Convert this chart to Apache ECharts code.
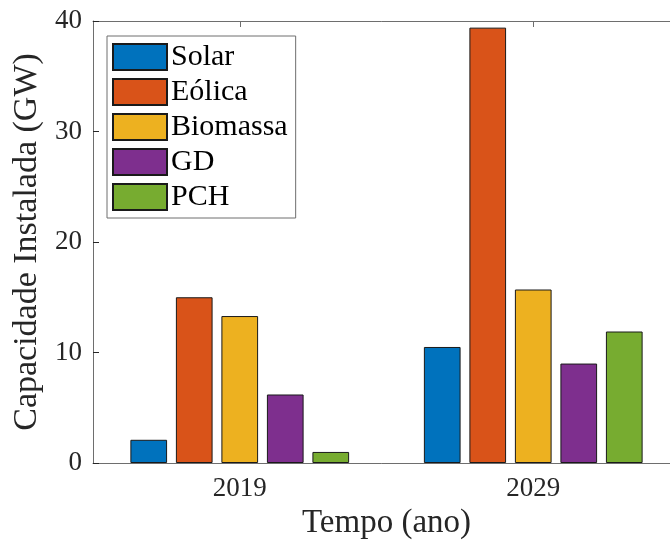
<!DOCTYPE html>
<html>
<head>
<meta charset="utf-8">
<script src="https://cdn.jsdelivr.net/npm/echarts@6/dist/echarts.min.js"></script>
<style>html,body{margin:0;padding:0;background:#fff;}#c{width:670px;height:542px;}</style>
</head>
<body>
<div id="c"></div>
<script>
const categories = ['2019', '2029'];
const seriesNames = ['Solar', 'Eólica', 'Biomassa', 'GD', 'PCH'];
const solar = [2.1, 10.5];
const eolica = [15.0, 39.4];
const biomassa = [13.3, 15.7];
const gd = [6.2, 9.0];
const pch = [1.0, 11.9];
const yTicks = [0, 10, 20, 30, 40];
const colors = ['#0072BD', '#D95319', '#EDB120', '#7E2F8E', '#77AC30'];
const values = [solar, eolica, biomassa, gd, pch];

const FONT = 'Liberation Serif, DejaVu Serif, serif';
const chart = echarts.init(document.getElementById('c'), null, {renderer: 'canvas'});
chart.setOption({
  animation: false,
  backgroundColor: '#fff',
  grid: {left: 93, top: 21, width: 587, height: 442, containLabel: false, outerBoundsMode: 'none'},
  legend: {
    left: 107, top: 36,
    orient: 'vertical',
    icon: 'rect',
    itemWidth: 54, itemHeight: 26, itemGap: 5,
    padding: [6, 8, 6, 5],
    borderColor: '#6e6e6e', borderWidth: 1,
    backgroundColor: '#fff',
    textStyle: {fontFamily: FONT, fontSize: 30, color: '#000', padding: [0, 0, 0, -1]},
    data: seriesNames
  },
  xAxis: [{
    type: 'category', data: categories, position: 'bottom',
    axisLine: {lineStyle: {color: '#6e6e6e', width: 1}},
    axisTick: {inside: true, alignWithLabel: true, length: 6, lineStyle: {color: '#262626'}},
    axisLabel: {fontFamily: FONT, fontSize: 27, color: '#262626', margin: 12},
    name: 'Tempo (ano)', nameLocation: 'middle', nameGap: 43,
    nameTextStyle: {fontFamily: FONT, fontSize: 33, color: '#262626'}
  }, {
    type: 'category', data: categories, position: 'top',
    axisLine: {show: true, lineStyle: {color: '#6e6e6e', width: 1}},
    axisTick: {show: true, inside: true, alignWithLabel: true, length: 6, lineStyle: {color: '#6e6e6e'}},
    axisLabel: {show: false}
  }],
  yAxis: {
    type: 'value', min: 0, max: 40, interval: 10,
    axisLine: {show: true, lineStyle: {color: '#6e6e6e', width: 1}},
    axisTick: {show: true, inside: true, length: 6, lineStyle: {color: '#262626'}},
    splitLine: {show: false},
    axisLabel: {fontFamily: FONT, fontSize: 27, color: '#262626', margin: 11,
      formatter: v => yTicks.includes(v) ? String(v) : ''},
    name: 'Capacidade Instalada (GW)', nameLocation: 'middle', nameGap: 47,
    nameTextStyle: {fontFamily: FONT, fontSize: 34, color: '#262626'}
  },
  series: seriesNames.map((n, i) => ({
    name: n, type: 'bar', xAxisIndex: 0, data: values[i],
    barWidth: 36.7, barGap: '24%',
    itemStyle: {color: colors[i], borderColor: '#1a1a1a', borderWidth: 1}
  }))
});
</script>
</body>
</html>
